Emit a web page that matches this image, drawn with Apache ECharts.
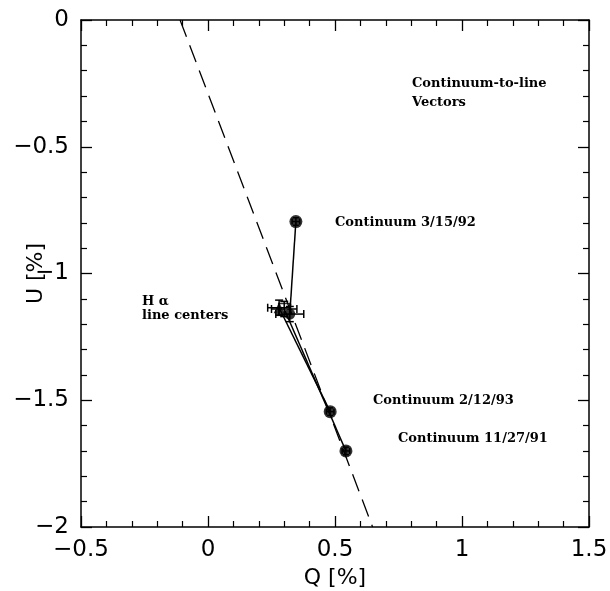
<!DOCTYPE html>
<html>
<head>
<meta charset="utf-8">
<script src="https://cdn.jsdelivr.net/npm/echarts@6/dist/echarts.min.js"></script>
<style>html,body{margin:0;padding:0;background:#fff;}#c{width:610px;height:591px;}</style>
</head>
<body>
<div id="c"></div>
<script>
// Continuum points
var contQ = [0.346, 0.481, 0.543];
var contU = [-0.795, -1.545, -1.70];
var contQerr = [0.015, 0.015, 0.015];
var contUerr = [0.015, 0.015, 0.015];
var contNames = ['Continuum 3/15/92', 'Continuum 2/12/93', 'Continuum 11/27/91'];
// H-alpha line centers (paired with the continuum points above)
var lineQ = [0.322, 0.280, 0.300];
var lineU = [-1.160, -1.135, -1.140];
var lineQerr = [0.055, 0.045, 0.05];
var lineUerr = [0.03, 0.03, 0.03];
var lineSymbols = ['circle', 'triangle', 'emptyRect'];
// Dashed reference line
var dashQ = [-0.11, 0.648];
var dashU = [0.0, -2.0];
// Axis settings
var xTicks = [-0.5, 0, 0.5, 1, 1.5];
var yTicks = [0, -0.5, -1, -1.5, -2];

var chart = echarts.init(document.getElementById('c'), null, {renderer: 'canvas'});

function fmt(v) { return String(v).replace('-', '\u2212'); }

var axisCommon = {
  axisLine: {show: true, onZero: false, lineStyle: {color: '#000', width: 1.5}},
  axisTick: {show: true, inside: true, length: 11, lineStyle: {color: '#000', width: 1.3}},
  minorTick: {show: true, splitNumber: 5, length: 6, lineStyle: {color: '#000', width: 1.2}},
  splitLine: {show: false},
  minorSplitLine: {show: false}
};

function errSeries(qs, us, qe, ue, capLen) {
  var data = [];
  for (var i = 0; i < qs.length; i++) data.push([qs[i], us[i], qe[i], ue[i]]);
  return {
    type: 'custom',
    data: data,
    z: 5,
    renderItem: function (params, api) {
      var q = api.value(0), u = api.value(1), dq = api.value(2), du = api.value(3);
      var l = api.coord([q - dq, u]), r = api.coord([q + dq, u]);
      var t = api.coord([q, u + du]), b = api.coord([q, u - du]);
      var st = {stroke: '#000', lineWidth: 1.5};
      return {type: 'group', children: [
        {type: 'line', shape: {x1: l[0], y1: l[1], x2: r[0], y2: r[1]}, style: st},
        {type: 'line', shape: {x1: t[0], y1: t[1], x2: b[0], y2: b[1]}, style: st},
        {type: 'line', shape: {x1: l[0], y1: l[1] - capLen, x2: l[0], y2: l[1] + capLen}, style: st},
        {type: 'line', shape: {x1: r[0], y1: r[1] - capLen, x2: r[0], y2: r[1] + capLen}, style: st},
        {type: 'line', shape: {x1: t[0] - capLen, y1: t[1], x2: t[0] + capLen, y2: t[1]}, style: st},
        {type: 'line', shape: {x1: b[0] - capLen, y1: b[1], x2: b[0] + capLen, y2: b[1]}, style: st}
      ]};
    }
  };
}

var series = [];
// dashed line
series.push({
  type: 'line', data: [[dashQ[0], dashU[0]], [dashQ[1], dashU[1]]], symbol: 'none',
  lineStyle: {color: '#000', width: 1.3, type: [18, 9]}, z: 2, silent: true
});
// vectors
for (var i = 0; i < contQ.length; i++) {
  series.push({
    type: 'line', data: [[contQ[i], contU[i]], [lineQ[i], lineU[i]]], symbol: 'none',
    lineStyle: {color: '#000', width: 1.5}, z: 3, silent: true
  });
}
// error bars
series.push(errSeries(contQ, contU, contQerr, contUerr, 3));
series.push(errSeries(lineQ, lineU, lineQerr, lineUerr, 4));
// continuum markers
series.push({
  type: 'scatter', data: contQ.map(function (q, i) { return [q, contU[i]]; }),
  symbol: 'circle', symbolSize: 13, itemStyle: {color: '#000'}, z: 6
});
// line center markers
for (var j = 0; j < lineQ.length; j++) {
  series.push({
    type: 'scatter', data: [[lineQ[j], lineU[j]]], symbol: lineSymbols[j] === 'emptyRect' ? 'rect' : lineSymbols[j],
    symbolSize: 11,
    itemStyle: lineSymbols[j] === 'emptyRect' ? {color: 'transparent', borderColor: '#000', borderWidth: 1.5} : {color: '#000'},
    z: 6
  });
}

var serifFont = {fontFamily: 'DejaVu Serif', fontWeight: 'bold', fontSize: 13, fill: '#000'};
function txt(x, y, s) {
  return {type: 'text', left: x, top: y - 8, style: Object.assign({text: s}, serifFont), z: 10};
}

chart.setOption({
  animation: false,
  backgroundColor: '#fff',
  grid: {left: 81, right: 21, top: 20, bottom: 64, containLabel: false, outerBoundsMode: 'none'},
  xAxis: [
    Object.assign({}, axisCommon, {
      type: 'value', min: -0.5, max: 1.5, interval: 0.5, position: 'bottom',
      name: 'Q [%]', nameLocation: 'middle', nameGap: 40, nameMoveOverlap: false,
      nameTextStyle: {fontFamily: 'DejaVu Sans', fontSize: 22, color: '#000'},
      axisLabel: {show: true, margin: 12, fontFamily: 'DejaVu Sans', fontSize: 23, color: '#000', formatter: fmt}
    }),
    Object.assign({}, axisCommon, {
      type: 'value', min: -0.5, max: 1.5, interval: 0.5, position: 'top',
      axisLabel: {show: false}
    })
  ],
  yAxis: [
    Object.assign({}, axisCommon, {
      type: 'value', min: -2, max: 0, interval: 0.5, position: 'left',
      name: 'U [%]', nameLocation: 'middle', nameGap: 34, nameMoveOverlap: false,
      nameTextStyle: {fontFamily: 'DejaVu Sans', fontSize: 22, color: '#000'},
      axisLabel: {show: true, margin: 12, fontFamily: 'DejaVu Sans', fontSize: 23, color: '#000', formatter: fmt}
    }),
    Object.assign({}, axisCommon, {
      type: 'value', min: -2, max: 0, interval: 0.5, position: 'right',
      axisLabel: {show: false}
    })
  ],
  series: series,
  graphic: [
    txt(412, 85, 'Continuum-to-line'),
    txt(412, 104, 'Vectors'),
    txt(335, 224, contNames[0]),
    txt(373, 402, contNames[1]),
    txt(398, 440, contNames[2]),
    txt(142, 303, 'H \u03b1'),
    txt(142, 317, 'line centers')
  ]
});
</script>
</body>
</html>
